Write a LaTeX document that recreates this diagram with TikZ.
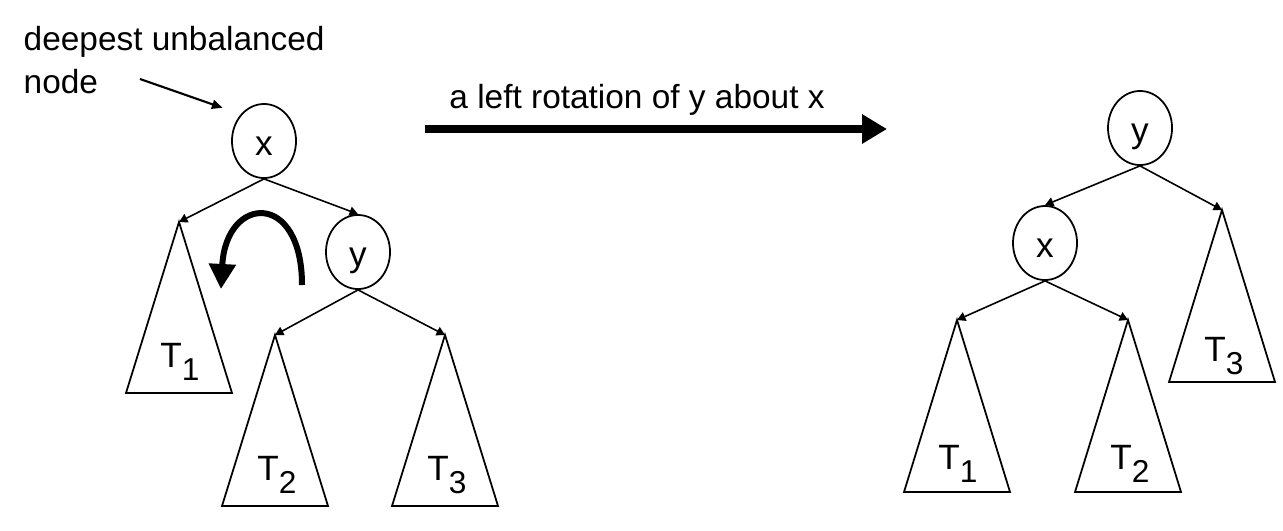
\documentclass[tikz,border=0pt]{standalone}
\usepackage{fontspec}
\setmainfont{Liberation Sans}
\usepackage{tikz}
\usetikzlibrary{arrows.meta,shapes.geometric,positioning}
\newcommand{\Tsub}[1]{T\raisebox{-3.6pt}{\fontsize{9}{10}\selectfont #1}}

\begin{document}
\begin{tikzpicture}[
  x=0.01cm, y=-0.01cm,
  keynode/.style={ellipse, draw, line width=0.5pt, minimum width=0.64cm,
                  minimum height=0.74cm, inner sep=0pt, text height=8pt, text depth=0pt,
                  font=\fontsize{10}{12}\selectfont},
  subtree/.style={draw, line width=0.5pt},
  child/.style={-{Triangle[length=2.4pt,width=2.6pt]}, line width=0.45pt},
  tlabel/.style={inner sep=0pt, font=\fontsize{10}{12}\selectfont},
  pointer/.style={-{Triangle[length=3pt,width=2.6pt]}, line width=0.6pt},
  swing/.style={-{Triangle[length=0.25cm,width=0.26cm]}, line width=0.06cm},
  rot/.style={-{Triangle[length=0.25cm,width=0.28cm]}, line width=0.08cm},
  font=\fontsize{9.5}{12.2}\selectfont
]
\useasboundingbox (0,0) rectangle (1283,530);

% before the rotation
\node[keynode] (x1) at (264,141) {x};
\node[keynode] (y1) at (358,252) {y};
\coordinate (L1) at (179,222);
\coordinate (L2) at (275,335);
\coordinate (L3) at (445,335);
\draw[subtree] (L1) -- ++(-53,171) -- ++(106,0) -- cycle;
\draw[subtree] (L2) -- ++(-53,171) -- ++(106,0) -- cycle;
\draw[subtree] (L3) -- ++(-53,171) -- ++(106,0) -- cycle;
\node[tlabel] (L1lab) at (180,362) {\Tsub{1}};
\node[tlabel] (L2lab) at (277,475) {\Tsub{2}};
\node[tlabel] (L3lab) at (447,475) {\Tsub{3}};
\draw[child] (x1.south) -- (L1);
\draw[child] (x1.south) -- (y1.north);
\draw[child] (y1.south) -- (L2);
\draw[child] (y1.south) -- (L3);

\node[anchor=north west, inner sep=0pt, align=left] (note) at (23,26)
  {deepest unbalanced\\node};
\coordinate (noteS) at (140,79);
\draw[pointer, shorten >=5.5pt] (noteS) -- (x1.north west);

\coordinate (swingS) at (302,285);
\coordinate (swingE) at (221,289);
\draw[swing] (swingS) .. controls (302,190) and (226,195) .. (swingE);

% the rotation
\coordinate (rotS) at (425,129);
\coordinate (rotE) at (887,129);
\draw[rot] (rotS) -- (rotE);
\node[anchor=base] (rotlab) at (637,108) {a left rotation of y about x};

% after the rotation
\node[keynode] (y2) at (1140,128) {y};
\node[keynode] (x2) at (1045,243) {x};
\coordinate (R1) at (957,320);
\coordinate (R2) at (1128,320);
\coordinate (R3) at (1222,210);
\draw[subtree] (R1) -- ++(-53,172) -- ++(106,0) -- cycle;
\draw[subtree] (R2) -- ++(-53,172) -- ++(106,0) -- cycle;
\draw[subtree] (R3) -- ++(-53,172) -- ++(106,0) -- cycle;
\node[tlabel] (R1lab) at (958,464) {\Tsub{1}};
\node[tlabel] (R2lab) at (1130,464) {\Tsub{2}};
\node[tlabel] (R3lab) at (1224,356) {\Tsub{3}};
\draw[child] (y2.south) -- (x2.north);
\draw[child] (y2.south) -- (R3);
\draw[child] (x2.south) -- (R1);
\draw[child] (x2.south) -- (R2);
\end{tikzpicture}
\end{document}
